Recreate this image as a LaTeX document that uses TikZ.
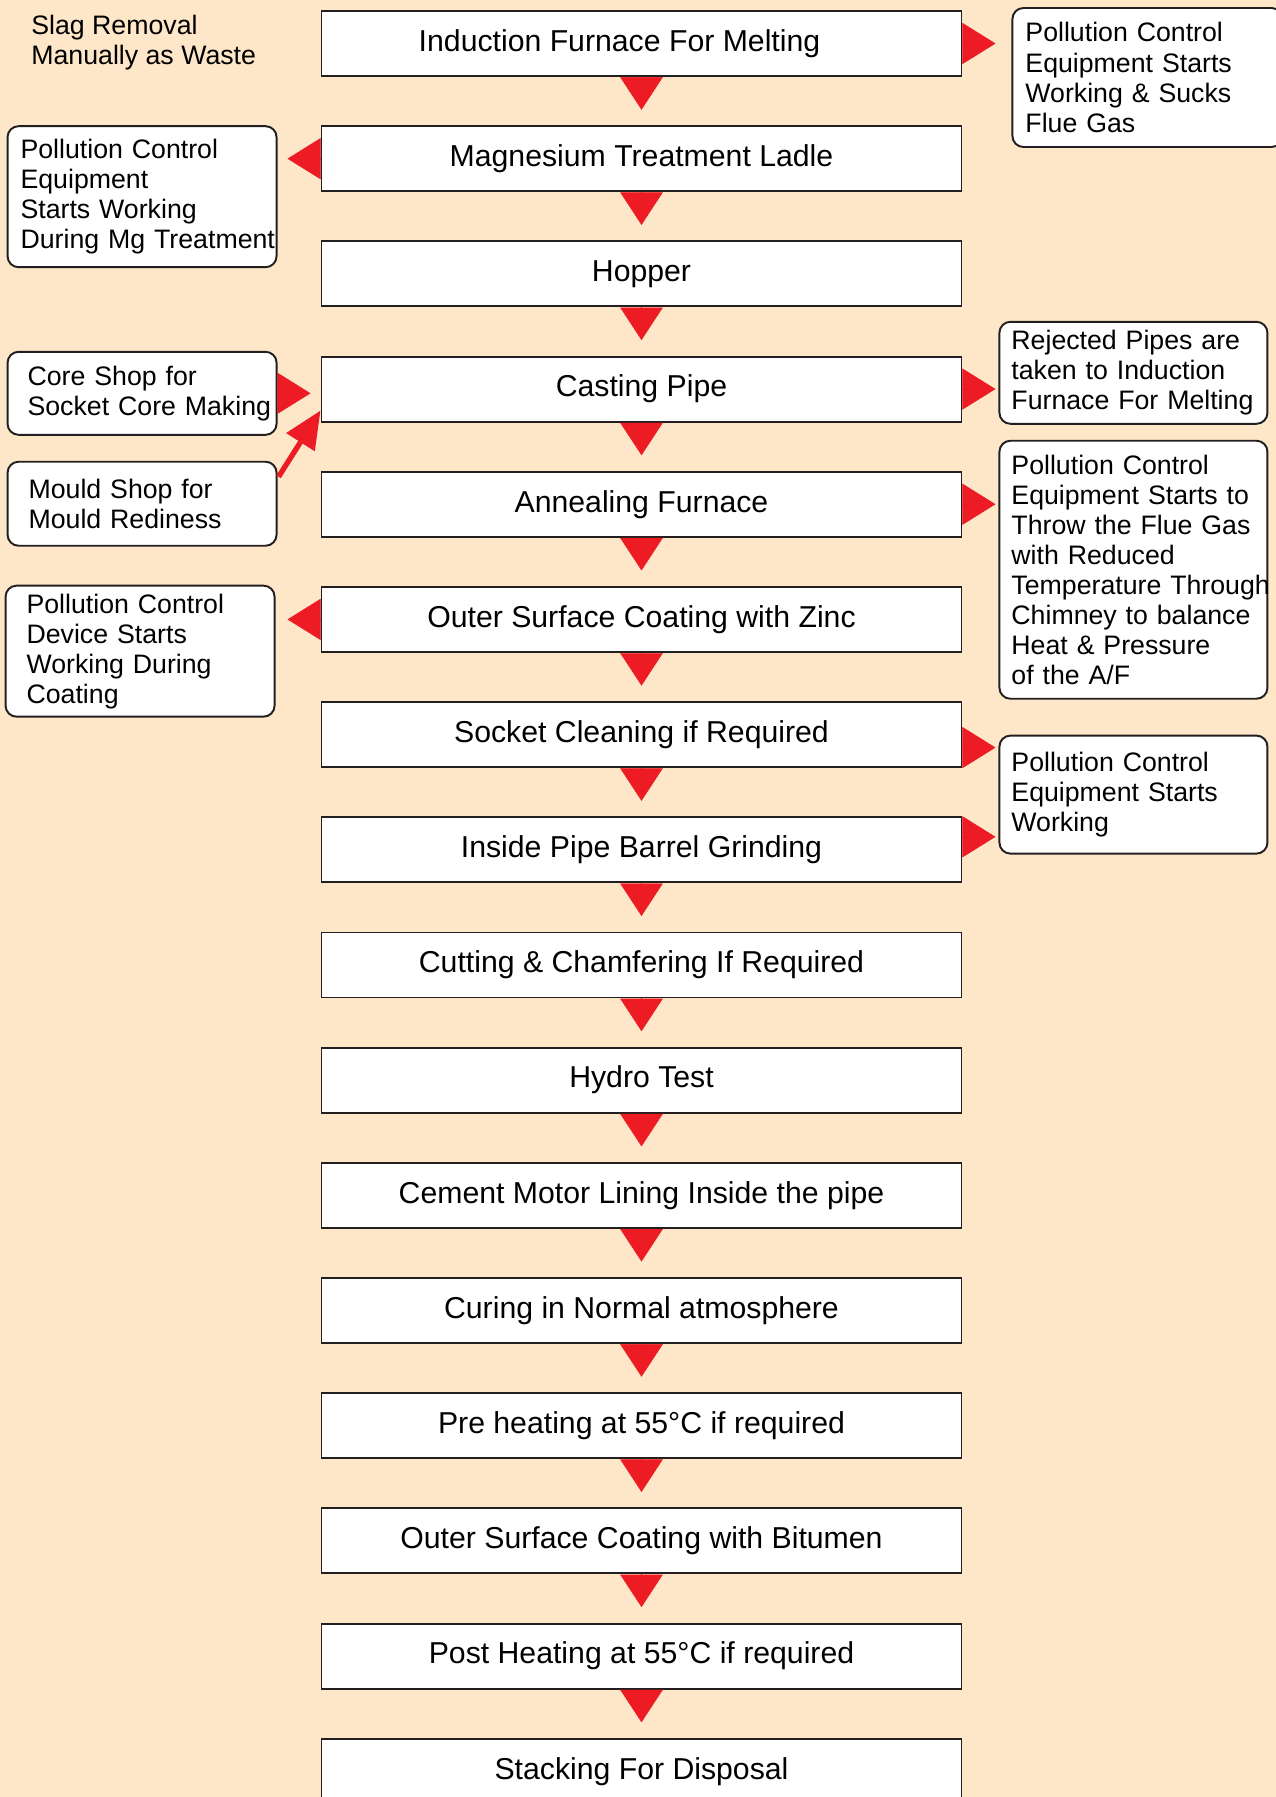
\documentclass[tikz,border=0pt]{standalone}
\usepackage{fontspec}
\setmainfont{Liberation Sans}
\usetikzlibrary{arrows.meta, calc, positioning}
\definecolor{peach}{HTML}{FEE6C8}
\definecolor{redt}{HTML}{ED1C24}
\definecolor{bord}{HTML}{231F20}
\hyphenpenalty=10000
\exhyphenpenalty=10000

\begin{document}
\begin{tikzpicture}[node distance=.965cm,
            stage/.style={draw=bord, fill=white, line width=1.1pt, minimum width=12.8cm, minimum height=1.3cm, font=\fontsize{17.2}{20}\selectfont},
            note/.style={draw=bord, fill=white, line width=1.1pt, rounded corners=.22cm, align=left, inner ysep=0pt, font=\fontsize{15.2}{17.1}\selectfont}]
        \tikzstyle{flow}=[draw=redt, line width=.2pt, -{Triangle[width=.85cm, length=.65cm]}]
        \tikzstyle{side}=[draw=redt, line width=.2pt, -{Triangle[width=.82cm, length=.66cm]}]
        \useasboundingbox (0,0) rectangle (25.52,-35.94);
        \clip (0,0) rectangle (25.52,-35.94);
        \fill[peach] (0,0) rectangle (25.52,-35.94);
        \node[stage] (s1) at (12.83,-.87) {Induction Furnace For Melting\kern.88cm};
        \node[stage, below=of s1] (s2) {Magnesium Treatment Ladle};
        \node[stage, below=of s2] (s3) {Hopper};
        \node[stage, below=of s3] (s4) {Casting Pipe};
        \node[stage, below=of s4] (s5) {Annealing Furnace};
        \node[stage, below=of s5] (s6) {Outer Surface Coating with Zinc};
        \node[stage, below=of s6] (s7) {Socket Cleaning if Required};
        \node[stage, below=of s7] (s8) {Inside Pipe Barrel Grinding};
        \node[stage, below=of s8] (s9) {Cutting \& Chamfering If Required};
        \node[stage, below=of s9] (s10) {Hydro Test};
        \node[stage, below=of s10] (s11) {Cement Motor Lining Inside the pipe};
        \node[stage, below=of s11] (s12) {Curing in Normal atmosphere};
        \node[stage, below=of s12] (s13) {Pre heating at 55°C if required};
        \node[stage, below=of s13] (s14) {Outer Surface Coating with Bitumen};
        \node[stage, below=of s14] (s15) {Post Heating at 55°C if required};
        \node[stage, below=of s15] (s16) {Stacking For Disposal};
        \foreach \i [evaluate=\i as \j using int(\i+1)] in {1,...,15}
            \draw[flow, shorten >=.31cm] (s\i) -- (s\j);

        \node[align=left, anchor=west, inner sep=0pt, font=\fontsize{15.2}{17.1}\selectfont] (slag) at (.62,-.85) {Slag Removal\\Manually as Waste};
        \node[note, anchor=north west, text width=4.88cm, inner xsep=.26cm, minimum height=2.78cm] (pcmelt) at ($(s1.north east)+(.98,.06)$) {Pollution Control\\Equipment Starts\\Working \& Sucks\\Flue Gas};
        \node[note, anchor=north west, text width=4.88cm, inner xsep=.24cm, minimum height=2.04cm] (reject) at ($(s4.north east)+(.72,.695)$) {Rejected Pipes are\\taken to Induction\\Furnace~For~Melting};
        \node[note, anchor=north west, text width=4.88cm, inner xsep=.24cm, minimum height=5.16cm] (pcaf) at ($(s5.north east)+(.72,.62)$) {Pollution Control\\Equipment Starts to\\Throw the Flue Gas\\with Reduced\\Temperature~Through\\Chimney to balance\\Heat \& Pressure\\of the A/F};
        \node[note, anchor=north west, text width=4.88cm, inner xsep=.24cm, minimum height=2.36cm] (pcwork) at ($(s7.north east)+(.72,-.67)$) {Pollution Control\\Equipment Starts\\Working};
        \node[note, anchor=north east, text width=4.86cm, inner xsep=.26cm, minimum height=2.82cm] (pcmg) at ($(s2.north west)+(-.86,0)$) {Pollution Control\\Equipment\\Starts Working\\During~Mg~Treatment};
        \node[note, anchor=north east, text width=4.58cm, inner xsep=.4cm, minimum height=1.66cm] (core) at ($(s4.north west)+(-.86,.095)$) {Core Shop for\\Socket~Core~Making};
        \node[note, below=.5cm of core, text width=4.54cm, inner xsep=.42cm, minimum height=1.68cm] (mould) {Mould Shop for\\Mould Rediness};
        \node[note, anchor=north east, text width=4.54cm, inner xsep=.42cm, minimum height=2.62cm] (pczinc) at ($(s6.north west)+(-.9,.025)$) {Pollution Control\\Device Starts\\Working During\\Coating};

        \draw[side, shorten >=.32cm] (s1.east) -- (s1.east -| pcmelt.west);
        \draw[side, shorten >=.2cm] (s2.west) -- (s2.west -| pcmg.east);
        \draw[side, shorten >=.2cm] (core.east) -- (core.east -| s4.west);
        \draw[side, shorten >=.06cm] (s4.east) -- (s4.east -| reject.west);
        \draw[side, shorten >=.06cm] (s5.east) -- (s5.east -| pcaf.west);
        \draw[side, shorten >=.24cm] (s6.west) -- (s6.west -| pczinc.east);
        \draw[side, shorten >=.06cm] ($(s7.south east)+(0,.41)$) -- ($(s7.south east -| pcwork.west)+(0,.41)$);
        \draw[side, shorten >=.06cm] ($(s8.north east)+(0,-.41)$) -- ($(s8.north east -| pcwork.west)+(0,-.41)$);
        \draw[redt, line width=3pt, -{Triangle[width=.65cm, length=.75cm]}] ($(mould.north east)+(.02,-.32)$) -- ($(s4.south west)+(0,.24)$);
    \end{tikzpicture}
\end{document}
